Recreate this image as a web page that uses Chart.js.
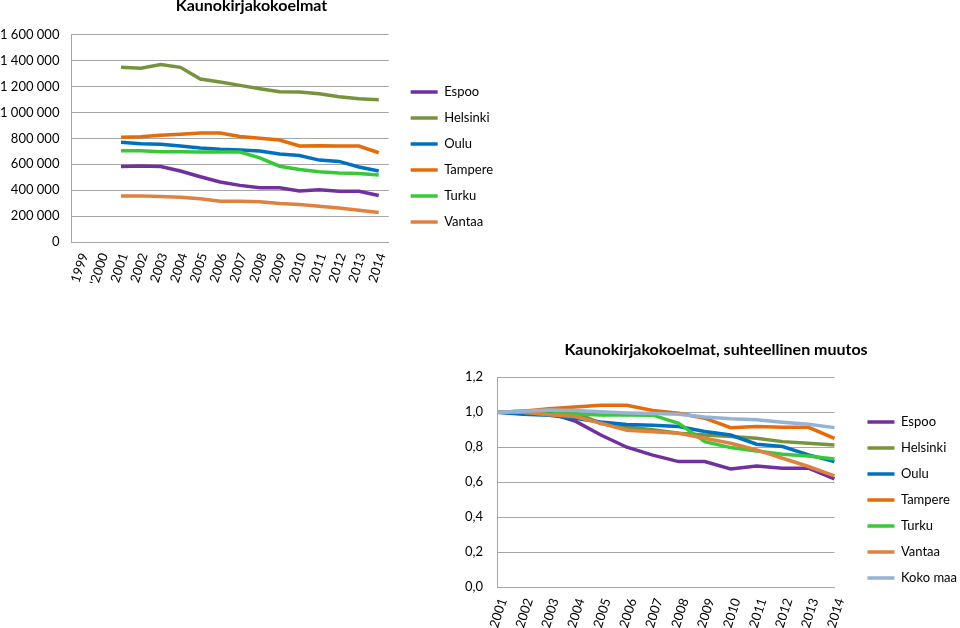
<!DOCTYPE html>
<html lang="fi">
<head>
  <meta charset="UTF-8">
  <title>Kaunokirjakokoelmat</title>
  <script src="https://cdn.jsdelivr.net/npm/chart.js"></script>
  <style>
    body {
      margin: 0;
      width: 960px;
      height: 628px;
      overflow: hidden;
      background: #fff;
      position: relative;
    }

    canvas {
      position: absolute;
    }

    #absChart {
      left: 0;
      top: -4px;
    }

    #relChart {
      left: 465px;
      top: 336px;
    }
  </style>
</head>
<body>

  <canvas id="absChart" width="507" height="319"></canvas>
  <canvas id="relChart" width="502" height="330"></canvas>

  <script>
    // --- data ---
    const absYears = ['1999', "'2000", '2001', '2002', '2003', '2004', '2005', '2006', '2007', '2008', '2009', '2010', '2011', '2012', '2013', '2014'];
    const relYears = ['2001', '2002', '2003', '2004', '2005', '2006', '2007', '2008', '2009', '2010', '2011', '2012', '2013', '2014'];

    const cities = ['Espoo', 'Helsinki', 'Oulu', 'Tampere', 'Turku', 'Vantaa'];
    const cityColors = ['#7030A0', '#77933C', '#0070C0', '#E46C0A', '#38C938', '#DF8240'];

    const espooAbs    = [null, null, 582000, 587000, 582000, 548000, 504000, 463000, 437000, 419000, 419000, 393000, 403000, 392000, 392000, 359000];
    const helsinkiAbs = [null, null, 1348000, 1341000, 1369000, 1348000, 1258000, 1235000, 1209000, 1183000, 1160000, 1157000, 1144000, 1121000, 1106000, 1098000];
    const ouluAbs     = [null, null, 769000, 759000, 754000, 741000, 725000, 715000, 710000, 702000, 679000, 668000, 632000, 622000, 579000, 548000];
    const tampereAbs  = [null, null, 808000, 813000, 823000, 831000, 841000, 841000, 815000, 800000, 787000, 741000, 743000, 741000, 741000, 689000];
    const turkuAbs    = [null, null, 705000, 705000, 697000, 697000, 694000, 694000, 694000, 650000, 585000, 559000, 543000, 533000, 528000, 517000];
    const vantaaAbs   = [null, null, 356000, 356000, 351000, 346000, 333000, 315000, 315000, 310000, 297000, 289000, 276000, 263000, 245000, 227000];

    const espooRel    = [1.0, 1.005, 0.997, 0.95, 0.87, 0.80, 0.755, 0.718, 0.718, 0.676, 0.693, 0.68, 0.68, 0.619];
    const helsinkiRel = [1.0, 0.995, 1.015, 1.0, 0.935, 0.915, 0.90, 0.88, 0.87, 0.861, 0.851, 0.832, 0.823, 0.813];
    const ouluRel     = [1.0, 0.988, 0.982, 0.966, 0.944, 0.93, 0.925, 0.918, 0.89, 0.87, 0.817, 0.804, 0.756, 0.718];
    const tampereRel  = [1.0, 1.006, 1.02, 1.03, 1.04, 1.04, 1.01, 0.994, 0.966, 0.912, 0.918, 0.914, 0.914, 0.851];
    const turkuRel    = [1.0, 1.0, 0.99, 0.99, 0.984, 0.984, 0.983, 0.937, 0.832, 0.798, 0.779, 0.76, 0.75, 0.733];
    const vantaaRel   = [1.0, 1.0, 0.986, 0.975, 0.937, 0.897, 0.888, 0.88, 0.851, 0.823, 0.785, 0.737, 0.69, 0.636];
    const kokoMaaRel  = [1.0, 1.005, 1.012, 1.01, 1.003, 0.996, 0.992, 0.989, 0.973, 0.962, 0.957, 0.943, 0.931, 0.912];

    Chart.defaults.font.family = 'Lato, "Open Sans", sans-serif';
    Chart.defaults.font.size = 13;
    Chart.defaults.color = '#000';

    const gridColor = '#A6A6A6';

    function makeSets(names, colors, series) {
      // later series drawn on top, like the original
      return series.map((data, i) => ({
        label: names[i],
        data: data,
        borderColor: colors[i],
        backgroundColor: colors[i],
        borderWidth: 3.5,
        pointRadius: 0,
        tension: 0,
        order: series.length - i
      }));
    }

    function spaced(v) {
      return String(v).replace(/\B(?=(\d{3})+(?!\d))/g, ' ');
    }

    // empty legend title only pushes the items down a bit
    function legendOpts(shift) {
      return {
        position: 'right',
        maxWidth: 200,
        title: { display: true, text: '', font: { size: 10 }, padding: { top: shift - 12, bottom: 0 } },
        labels: {
          usePointStyle: true,
          pointStyle: 'line',
          pointStyleWidth: 27,
          boxHeight: 13,
          padding: 13,
          font: { size: 13 },
          sort: (a, b) => a.datasetIndex - b.datasetIndex
        }
      };
    }

    function xAxis(offset, height, shift) {
      return {
        offset: offset,
        grid: { display: false },
        border: { color: gridColor },
        ticks: { autoSkip: false, minRotation: 72, maxRotation: 72, padding: 1, labelOffset: shift, font: { size: 13 } },
        afterFit: s => { s.height = height; }
      };
    }

    function gapAxis(w) {
      return {
        type: 'linear',
        position: 'right',
        grid: { display: false },
        border: { display: false },
        ticks: { display: false },
        afterFit: s => { s.width = w; }
      };
    }

    // absolute collections
    new Chart(document.getElementById('absChart'), {
      type: 'line',
      data: {
        labels: absYears,
        datasets: makeSets(cities, cityColors, [espooAbs, helsinkiAbs, ouluAbs, tampereAbs, turkuAbs, vantaaAbs])
      },
      options: {
        responsive: false,
        animation: false,
        layout: { padding: { right: 4, bottom: 20 } },
        plugins: {
          title: {
            display: true,
            text: 'Kaunokirjakokoelmat',
            font: { size: 16, weight: 'bold' },
            padding: { top: 0, bottom: 19.5 }
          },
          legend: legendOpts(23),
          tooltip: { enabled: false }
        },
        scales: {
          x: xAxis(true, 53, 3),
          y: {
            min: 0,
            max: 1600000,
            grid: { color: gridColor, drawTicks: false },
            border: { color: gridColor },
            ticks: { stepSize: 200000, padding: 12, callback: v => spaced(v) },
            afterFit: s => { s.width -= 12; }
          },
          gap: gapAxis(9)
        }
      }
    });

    // relative change
    new Chart(document.getElementById('relChart'), {
      type: 'line',
      data: {
        labels: relYears,
        datasets: makeSets(cities.concat(['Koko maa']), cityColors.concat(['#95B3D7']),
          [espooRel, helsinkiRel, ouluRel, tampereRel, turkuRel, vantaaRel, kokoMaaRel])
      },
      options: {
        responsive: false,
        animation: false,
        layout: { padding: { right: 0, bottom: 28.7 } },
        plugins: {
          title: {
            display: true,
            text: 'Kaunokirjakokoelmat, suhteellinen muutos',
            font: { size: 16, weight: 'bold' },
            padding: { top: 4, bottom: 18 }
          },
          legend: legendOpts(26.7),
          tooltip: { enabled: false }
        },
        scales: {
          x: xAxis(false, 50, 6),
          y: {
            min: 0,
            max: 1.2,
            grid: { color: gridColor, drawTicks: false },
            border: { color: gridColor },
            ticks: { stepSize: 0.2, padding: 14, callback: v => v.toFixed(1).replace('.', ',') },
            afterFit: s => { s.width -= 14; }
          },
          gap: gapAxis(20)
        }
      }
    });
  </script>
</body>
</html>
